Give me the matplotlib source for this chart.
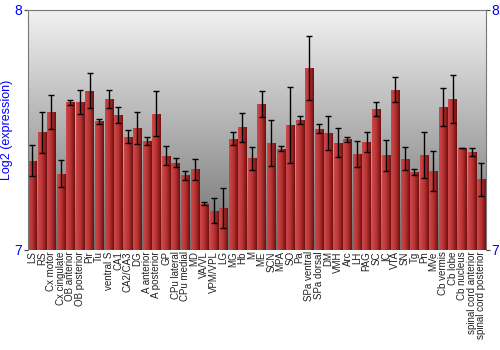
#!/usr/bin/env python3

import matplotlib

matplotlib.use("Agg")
import matplotlib.pyplot as plt
import numpy as np
from matplotlib.colors import LinearSegmentedColormap

plt.rcParams["font.family"] = ["Liberation Sans", "DejaVu Sans"]

regions = [
    "LS", "RS", "Cx motor", "Cx cingulate", "OB anterior", "OB posterior",
    "Pir", "Tu", "ventral S", "CA1", "CA2/CA3", "DG", "A anterior",
    "A posterior", "GP", "CPu lateral", "CPu medial", "MD", "VA/VL",
    "VPM/VPL", "LG", "MG", "Hb", "M", "ME", "SCN", "MPA", "SO", "Pa",
    "SPa ventral", "SPa dorsal", "DM", "VMH", "Arc", "LH", "PAG", "SC",
    "IC", "VTA", "SN", "Tg", "Pn", "MVe", "Cb vermis", "Cb lobe",
    "Cb nucleus", "spinal cord anterior", "spinal cord posterior",
]
expression = [
    7.371, 7.490, 7.574, 7.317, 7.615, 7.614, 7.663, 7.536, 7.629, 7.563,
    7.472, 7.508, 7.454, 7.567, 7.393, 7.363, 7.310, 7.335, 7.192, 7.164,
    7.174, 7.463, 7.511, 7.381, 7.607, 7.444, 7.422, 7.519, 7.542, 7.758,
    7.504, 7.488, 7.447, 7.461, 7.400, 7.449, 7.588, 7.394, 7.667, 7.379,
    7.325, 7.394, 7.329, 7.594, 7.629, 7.425, 7.407, 7.294,
]
errors = [
    0.065, 0.085, 0.072, 0.056, 0.010, 0.050, 0.073, 0.010, 0.039, 0.033,
    0.028, 0.068, 0.018, 0.093, 0.040, 0.019, 0.019, 0.042, 0.007, 0.053,
    0.083, 0.027, 0.061, 0.049, 0.053, 0.096, 0.010, 0.158, 0.017, 0.133,
    0.019, 0.071, 0.059, 0.010, 0.053, 0.042, 0.029, 0.065, 0.053, 0.048,
    0.014, 0.095, 0.084, 0.079, 0.099, 0.001, 0.017, 0.070,
]

ymin, ymax = 7, 8
x = np.arange(len(regions))

fig = plt.figure(figsize=(5, 3.5), dpi=100)
ax = fig.add_axes([0.055, 0.286, 0.917, 0.686])
ax.set_xlim(-0.5, len(regions) - 0.5)
ax.set_ylim(ymin, ymax)

# gray vertical gradient background
bg = LinearSegmentedColormap.from_list("bg", ["#6e6e6e", "#f2f2f2"])
ax.imshow(
    np.linspace(0, 1, 256).reshape(-1, 1),
    cmap=bg,
    aspect="auto",
    origin="lower",
    extent=(-0.5, len(regions) - 0.5, ymin, ymax),
    zorder=0,
)

# red bars with horizontal shading
bar_cmap = LinearSegmentedColormap.from_list("bar", ["#cc4a4a", "#b83232", "#6e1010"])
bars = ax.bar(x, np.array(expression) - ymin, bottom=ymin, width=0.86,
              color="none", zorder=2)
grad = np.linspace(0, 1, 64).reshape(1, -1)
for b in bars:
    bx, by = b.get_x(), b.get_y()
    im = ax.imshow(grad, cmap=bar_cmap, aspect="auto",
                   extent=(bx, bx + b.get_width(), by, by + b.get_height()),
                   zorder=2)
    im.set_clip_path(b)

ax.errorbar(x, expression, yerr=errors, fmt="none", ecolor="black",
            elinewidth=1, capsize=2, capthick=1, zorder=3)

ax.set_xticks(x)
ax.set_xticklabels(regions, rotation=90, fontsize=7, color="#222222")
ax.tick_params(axis="x", length=0, pad=1)

ax.set_yticks([7, 8])
ax.tick_params(axis="y", labelsize=10, labelcolor="blue", length=3,
               right=True, labelright=True, pad=1, color="#444444")
ax.set_ylabel("Log2 (expression)", color="blue", fontsize=9, labelpad=1)

for side in ["top", "right", "left"]:
    ax.spines[side].set_color("#777777")
ax.spines["bottom"].set_visible(False)

fig.savefig("out.png", dpi=100)
